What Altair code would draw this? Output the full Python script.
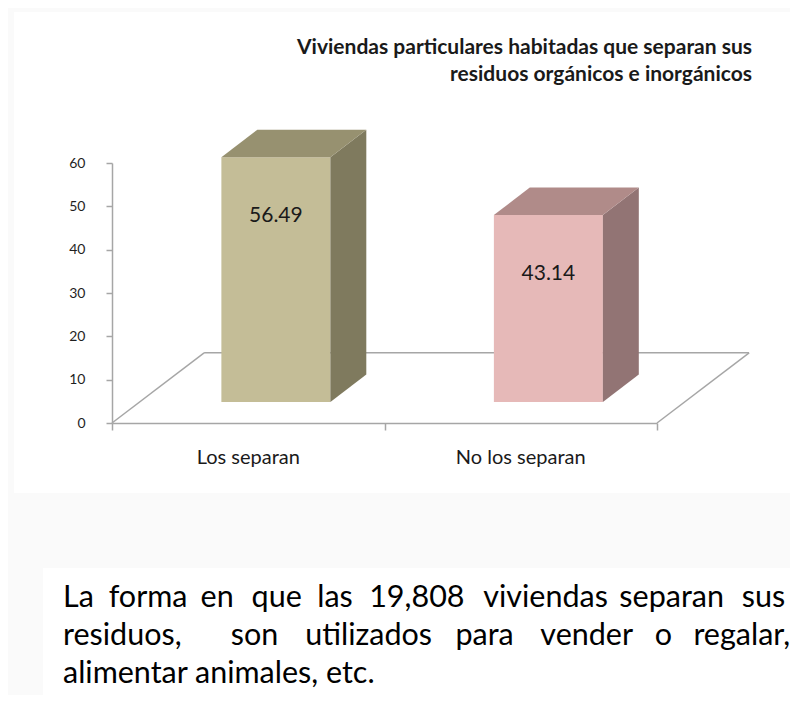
import altair as alt
import pandas as pd

# ---------------- data ----------------
categories = ["Los separan", "No los separan"]
values = [56.49, 43.14]
value_labels = ["56.49", "43.14"]
front_colors = ["#C4BD97", "#E6B9B8"]
side_colors = ["#7F7A5E", "#927474"]
top_colors = ["#979170", "#B08B89"]
y_ticks = [0, 10, 20, 30, 40, 50, 60]

title_lines = ["Viviendas particulares habitadas que separan sus",
               "residuos orgánicos e inorgánicos"]
note_line1 = ["La", "forma", "en", "que", "las", "19,808", "viviendas", "separan", "sus"]
note_line2 = ["residuos,", "", "son", "utilizados", "para", "vender", "o", "regalar,"]
note_line3 = "alimentar animales, etc."

# ---------------- layout / style ----------------
W, H = 545, 260
PAD = {"left": 104, "top": 155, "right": 133, "bottom": 272}
HALF = 0.2            # half bar width (category units)
DX, DY = 0.338, 16.2  # 3D depth offset in data units
F1, F2 = 0.30, 0.69   # bar front / back depth fractions
GRAY = "#A6A6A6"
FONT = "Lato"
NOTE_SIZE = 30.5

# approximate rendered word widths (px) at 29px Lato, used to justify the note
w_line1 = [30, 74, 35, 49, 36, 95, 116, 103, 43]
w_line2 = [116, 0, 49, 121, 59, 87, 15, 89]
NOTE_LEFT, NOTE_RIGHT = -49, 675   # relative to plot origin


def justify(widths):
    k = NOTE_SIZE / 29.0
    ws = [w * k for w in widths]
    gap = (NOTE_RIGHT - NOTE_LEFT - sum(ws)) / (len(ws) - 1)
    xs, x = [], NOTE_LEFT
    for w in ws:
        xs.append(x)
        x += w + gap
    return xs


# ---------------- derived tables ----------------
front_rows, side_rows, top_rows, label_rows = [], [], [], []
for i, (c, v) in enumerate(zip(categories, values)):
    cx = i + 0.5 + F1 * DX
    xl, xr = cx - HALF, cx + HALF
    y0 = F1 * DY
    d = (F2 - F1)
    front_rows.append({"cat": c, "x": xl, "x2": xr, "y": y0, "y2": y0 + v, "fill": front_colors[i]})
    side_rows += [
        {"cat": c, "x": xr, "y": y0, "y2": y0 + v, "fill": side_colors[i]},
        {"cat": c, "x": xr + d * DX, "y": F2 * DY, "y2": F2 * DY + v, "fill": side_colors[i]},
    ]
    top_rows += [
        {"cat": c, "y": y0 + v, "x": xl, "x2": xr, "fill": top_colors[i]},
        {"cat": c, "y": F2 * DY + v, "x": xl + d * DX, "x2": xr + d * DX, "fill": top_colors[i]},
    ]
    label_rows.append({"cat": c, "x": cx, "y": y0 + v, "label": value_labels[i]})

n = len(categories)
floor_df = pd.DataFrame([
    {"x": DX, "x2": n + DX, "y": DY, "y2": DY},
    {"x": 0, "x2": DX, "y": 0, "y2": DY},
    {"x": n, "x2": n + DX, "y": 0, "y2": DY},
])
cat_df = pd.DataFrame({"cat": categories, "x": [i + 0.5 for i in range(n)]})

xs = alt.Scale(domain=[0, n], nice=False, zero=False)
ys = alt.Scale(domain=[0, 60], nice=False, zero=False)
one = pd.DataFrame({"a": [0]})

# background boxes
bg1 = alt.Chart(one).mark_rect(color="white").encode(
    x=alt.value(-98), x2=alt.value(690), y=alt.value(-151), y2=alt.value(330))
bg2 = alt.Chart(one).mark_rect(color="white").encode(
    x=alt.value(-69), x2=alt.value(690), y=alt.value(405), y2=alt.value(540))

axes = alt.Chart(pd.DataFrame({"x": [0.0], "y": [0.0]})).mark_point(opacity=0).encode(
    x=alt.X("x:Q", scale=xs, axis=alt.Axis(values=[0, 1, 2], labels=False, title=None, grid=False,
                                           tickSize=7, tickColor=GRAY, domainColor=GRAY,
                                           domainWidth=1.5, tickWidth=1.5, zindex=1)),
    y=alt.Y("y:Q", scale=ys, axis=alt.Axis(values=y_ticks, title=None, grid=False, tickSize=6,
                                           tickColor=GRAY, domainColor=GRAY, domainWidth=1.5,
                                           tickWidth=1.5, labelPadding=21, labelFont=FONT,
                                           labelFontSize=14, labelColor="#1f1f1f", zindex=1)),
)

floor = alt.Chart(floor_df).mark_rule(color=GRAY, strokeWidth=1.5).encode(
    x=alt.X("x:Q", scale=xs), x2="x2:Q", y=alt.Y("y:Q", scale=ys), y2="y2:Q")

front = alt.Chart(pd.DataFrame(front_rows)).mark_rect().encode(
    x=alt.X("x:Q", scale=xs), x2="x2:Q", y=alt.Y("y:Q", scale=ys), y2="y2:Q",
    fill=alt.Fill("fill:N", scale=None))

side = alt.Chart(pd.DataFrame(side_rows)).mark_area(orient="vertical").encode(
    x=alt.X("x:Q", scale=xs), y=alt.Y("y:Q", scale=ys, stack=None), y2="y2:Q",
    fill=alt.Fill("fill:N", scale=None), detail="cat:N")

top = alt.Chart(pd.DataFrame(top_rows)).mark_area(orient="horizontal").encode(
    y=alt.Y("y:Q", scale=ys), x=alt.X("x:Q", scale=xs, stack=None), x2="x2:Q",
    fill=alt.Fill("fill:N", scale=None), detail="cat:N")

vlabels = alt.Chart(pd.DataFrame(label_rows)).mark_text(
    font=FONT, fontSize=21, dy=59, baseline="middle", align="center", color="#1a1a1a").encode(
    x=alt.X("x:Q", scale=xs), y=alt.Y("y:Q", scale=ys), text="label:N")

catlabels = alt.Chart(cat_df).mark_text(
    font=FONT, fontSize=20, baseline="middle", align="center", color="#1a1a1a").encode(
    x=alt.X("x:Q", scale=xs), y=alt.value(295), text="cat:N")

layers = [bg1, bg2, axes, floor, front, side, top, vlabels, catlabels]

for t, py in zip(title_lines, [-115, -88]):
    layers.append(alt.Chart(pd.DataFrame({"t": [t]})).mark_text(
        font=FONT, fontSize=21, fontWeight="bold", align="right", baseline="middle",
        color="#1a1a1a").encode(x=alt.value(640), y=alt.value(py), text="t:N"))

note_items = ([(w, x, 435) for w, x in zip(note_line1, justify(w_line1))] +
              [(w, x, 473) for w, x in zip(note_line2, justify(w_line2)) if w] +
              [(note_line3, NOTE_LEFT, 511)])
for w, px, py in note_items:
    layers.append(alt.Chart(pd.DataFrame({"w": [w]})).mark_text(
        font=FONT, fontSize=NOTE_SIZE, align="left", baseline="middle", color="#000000").encode(
        x=alt.value(px), y=alt.value(py), text="w:N"))

chart = alt.layer(*layers).properties(
    width=W, height=H, padding=PAD, autosize=alt.AutoSizeParams(type="none"),
    background="#FAFAFA",
).configure_view(stroke=None)

chart.save("out.html", embed_options={"renderer": "svg", "actions": False})
